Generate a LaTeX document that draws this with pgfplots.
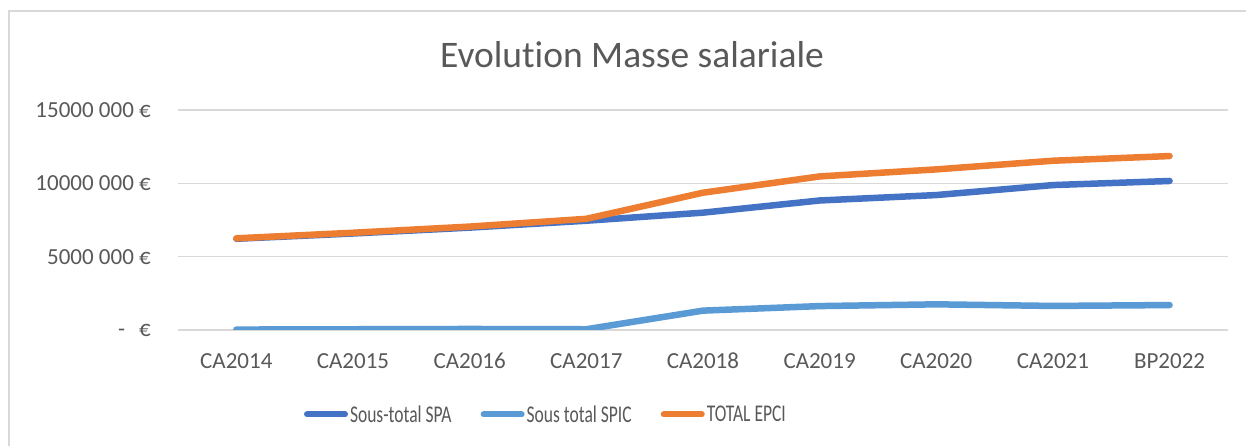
\documentclass[border=0pt]{standalone}
\usepackage{fontspec}
\setmainfont{Carlito}[Ligatures={NoCommon}]
\usepackage{pgfplots}
\pgfplotsset{compat=1.18}
\definecolor{spa}{HTML}{4472C4}
\definecolor{spic}{HTML}{5B9BD5}
\definecolor{tot}{HTML}{ED7D31}
\definecolor{txt}{HTML}{595959}
\definecolor{grd}{HTML}{D9D9D9}
\begin{document}
\begin{tikzpicture}[x=1pt,y=1pt]
\path[use as bounding box, fill=white] (0,0) rectangle (1246,446);
\draw[grd, line width=1.5pt] (9,0) -- (9,435) -- (1246,435);
\node[anchor=base, text=txt, font=\fontsize{37.5}{40}\selectfont, inner sep=0pt] at (632,378.3) {Evolution Masse salariale};
\begin{axis}[
  at={(178pt,116pt)}, anchor=south west, scale only axis,
  width=1050pt, height=220pt,
  xmin=-0.5, xmax=8.5, ymin=0, ymax=15000000,
  xtick={0,1,2,3,4,5,6,7,8},
  xticklabels={CA2014,CA2015,CA2016,CA2017,CA2018,CA2019,CA2020,CA2021,BP2022},
  ytick={0,5000000,10000000,15000000},
  yticklabels={{-\hspace{14pt}€},{5000 000 €},{10000 000 €},{15000 000 €}},
  scaled y ticks=false,
  major tick length=0pt,
  axis line style={draw=none},
  ymajorgrids, grid style={grd, line width=1.6pt},
  tick label style={text=txt, font=\fontsize{23}{25}\selectfont},
  xticklabel style={anchor=north, inner sep=0pt, yshift=-23pt},
  yticklabel style={anchor=east, inner sep=0pt, xshift=-27pt},
  legend style={at={(0.3505,-0.384)}, anchor=center, draw=none, fill=none,
    legend columns=3, font=\fontsize{24}{26}\selectfont, text=txt,
    /tikz/every even column/.append style={column sep=27pt},
    nodes={inner sep=2pt}},
  legend image code/.code={\draw[#1, line width=6pt, line cap=round] (0pt,0pt) -- (38pt,0pt);},
  every axis plot/.append style={line width=6.5pt, line cap=round, line join=round},
]
\addplot[spa] coordinates {(0,6220000) (1,6580000) (2,6980000) (3,7450000) (4,8000000) (5,8830000) (6,9200000) (7,9880000) (8,10160000)};
\addplot[spic] coordinates {(0,30000) (1,50000) (2,70000) (3,50000) (4,1320000) (5,1630000) (6,1750000) (7,1640000) (8,1700000)};
\addplot[tot] coordinates {(0,6250000) (1,6630000) (2,7050000) (3,7580000) (4,9360000) (5,10470000) (6,10950000) (7,11540000) (8,11860000)};
\legend{{\scalebox{0.73}[1]{Sous-total SPA}},{\scalebox{0.73}[1]{Sous total SPIC}},{\scalebox{0.73}[1]{TOTAL EPCI}}}
\end{axis}
\end{tikzpicture}
\end{document}
